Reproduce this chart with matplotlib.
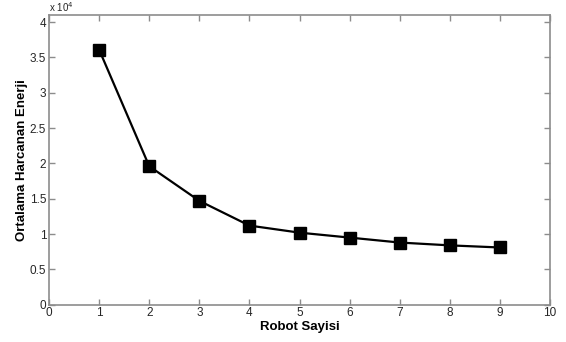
import matplotlib
matplotlib.use('agg')
import matplotlib.pyplot as plt
from matplotlib.ticker import FuncFormatter, MultipleLocator
import numpy as np

# robot count vs average consumed energy
robots = [1, 2, 3, 4, 5, 6, 7, 8, 9]
energy = [36100, 19600, 14700, 11200, 10200, 9500, 8800, 8400, 8100]

plt.rcParams['font.family'] = ['Liberation Sans', 'DejaVu Sans']

fig = plt.figure(figsize=(5.66, 3.42), dpi=100)
ax = fig.add_axes([0.0866, 0.109, 0.8854, 0.847])

ax.plot(robots, energy, color='black', linewidth=1.6, marker='s',
        markersize=8.5, markerfacecolor='black', markeredgecolor='black')

ax.set_xlim(0, 10)
ax.set_ylim(0, 41000)
ax.xaxis.set_major_locator(MultipleLocator(1))
ax.yaxis.set_major_locator(MultipleLocator(5000))
ax.yaxis.set_major_formatter(FuncFormatter(lambda v, p: '%g' % (v / 1e4)))

ax.tick_params(direction='in', top=True, right=True, length=4, width=1,
               color='#8c8c8c', labelsize=8.5, labelcolor='#262626', pad=2)
for s in ax.spines.values():
    s.set_color('#8c8c8c')
    s.set_linewidth(1.2)

ax.text(0.0, 1.003, r'x 10$^4$', transform=ax.transAxes, fontsize=7,
        color='#262626', ha='left', va='bottom')

ax.set_xlabel('Robot Sayisi', fontsize=9.5, fontweight='bold', labelpad=1)
ax.set_ylabel('Ortalama Harcanan Enerji', fontsize=9.5, fontweight='bold', labelpad=1)

fig.savefig('out.png', dpi=100)
